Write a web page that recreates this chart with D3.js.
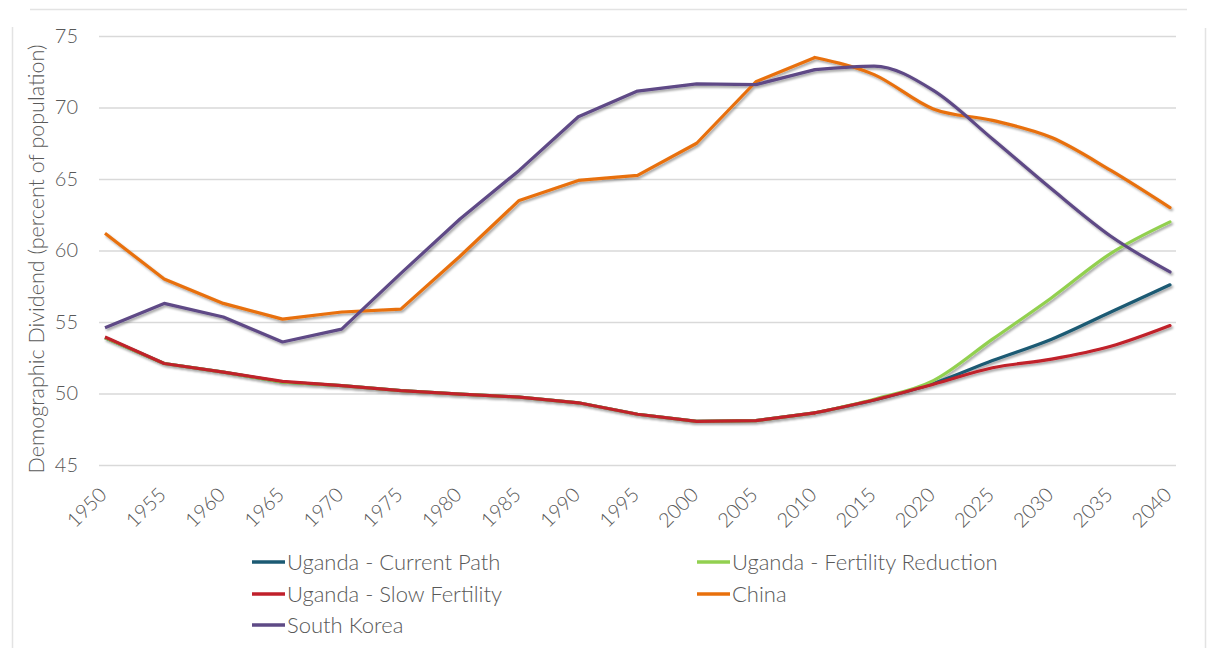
<!DOCTYPE html>
<html>
<head>
<meta charset="utf-8">
<script src="https://cdn.jsdelivr.net/npm/d3@7"></script>
<style>
  html, body { margin: 0; padding: 0; background: #fff; }
  svg text { font-family: Lato, "Open Sans", sans-serif; font-weight: 300; fill: #595959; }
</style>
</head>
<body>
<div id="chart"></div>
<script>
// Years on the category axis
const years = [1950, 1955, 1960, 1965, 1970, 1975, 1980, 1985, 1990, 1995,
               2000, 2005, 2010, 2015, 2020, 2025, 2030, 2035, 2040];

// Demographic dividend values
const ugandaCurrent = [53.9, 52.1, 51.5, 50.8, 50.55, 50.2, 49.95, 49.75, 49.35, 48.55,
                       48.05, 48.1, 48.65, 49.55, 50.7, 52.3, 53.8, 55.7, 57.6];
const ugandaReduction = [53.9, 52.1, 51.5, 50.8, 50.55, 50.2, 49.95, 49.75, 49.35, 48.55,
                         48.05, 48.1, 48.65, 49.6, 50.9, 53.8, 56.7, 59.8, 62.0];
const ugandaSlow = [53.95, 52.1, 51.5, 50.85, 50.55, 50.2, 49.95, 49.75, 49.35, 48.55,
                    48.05, 48.1, 48.65, 49.55, 50.65, 51.8, 52.4, 53.3, 54.75];
const china = [61.2, 58.0, 56.3, 55.2, 55.7, 55.9, 59.6, 63.5, 64.9, 65.25,
               67.5, 71.8, 73.5, 72.3, 69.9, 69.1, 67.9, 65.6, 63.0];
const southKorea = [54.6, 56.3, 55.35, 53.6, 54.5, 58.4, 62.2, 65.6, 69.35, 71.15,
                    71.65, 71.6, 72.65, 72.9, 71.2, 67.8, 64.3, 61.0, 58.5];

const yTicks = [45, 50, 55, 60, 65, 70, 75];

// projections (from 2010 on) are drawn smoothed, like the source
const smoothFrom = 2010;

const series = [
    { name: "Uganda - Current Path", values: ugandaCurrent, color: "#1b5a73" },
    { name: "Uganda - Fertility Reduction", values: ugandaReduction, color: "#92d050" },
    { name: "Uganda - Slow Fertility", values: ugandaSlow, color: "#c0202b" },
    { name: "China", values: china, color: "#e8700c" },
    { name: "South Korea", values: southKorea, color: "#5e4a86" }
];

const width = 1207, height = 648;

const svg = d3.select("#chart").append("svg")
    .attr("width", width)
    .attr("height", height);

// soft drop shadow under the lines
const defs = svg.append("defs");
defs.append("filter")
    .attr("id", "shadow")
    .attr("x", "-5%").attr("y", "-5%")
    .attr("width", "110%").attr("height", "120%")
    .append("feDropShadow")
    .attr("dx", 1.5).attr("dy", 2)
    .attr("stdDeviation", 1.3)
    .attr("flood-color", "#000")
    .attr("flood-opacity", 0.35);

// frame pieces
svg.append("line").attr("x1", 30).attr("x2", 1187).attr("y1", 9.5).attr("y2", 9.5)
    .attr("stroke", "#e3e3e3").attr("stroke-width", 1.5);
svg.append("line").attr("x1", 12.5).attr("x2", 12.5).attr("y1", 27).attr("y2", height)
    .attr("stroke", "#e3e3e3").attr("stroke-width", 1.5);
svg.append("line").attr("x1", 1205.5).attr("x2", 1205.5).attr("y1", 28).attr("y2", height)
    .attr("stroke", "#e3e3e3").attr("stroke-width", 1.5);

const x = d3.scaleLinear()
    .domain([1950, 2040])
    .range([105, 1170]);

const y = d3.scaleLinear()
    .domain([45, 75])
    .range([465, 36]);

// gridlines + y labels
const yAxis = svg.append("g")
    .attr("transform", "translate(99,0)")
    .call(d3.axisLeft(y).tickValues(yTicks).tickSize(-1077).tickPadding(21));
yAxis.select(".domain").remove();
yAxis.selectAll(".tick line").attr("stroke", "#d9d9d9").attr("stroke-width", 1.5);
yAxis.selectAll(".tick text")
    .style("font-size", "20px")
    .attr("fill", "#595959");

// rotated year labels
svg.append("g").selectAll("text")
    .data(years)
    .enter()
    .append("text")
    .attr("text-anchor", "end")
    .attr("transform", d => `translate(${x(d) + 3},496) rotate(-45)`)
    .style("font-size", "20px")
    .text(d => d);

// axis title
svg.append("text")
    .attr("transform", "translate(44,259) rotate(-90)")
    .attr("text-anchor", "middle")
    .style("font-size", "21.5px")
    .text("Demographic Dividend (percent of population)");

const lineHist = d3.line()
    .x(d => x(d.year))
    .y(d => y(d.value));

const lineProj = d3.line()
    .curve(d3.curveMonotoneX)
    .x(d => x(d.year))
    .y(d => y(d.value));

const lines = svg.append("g").attr("filter", "url(#shadow)");

series.forEach(s => {
    const pts = years.map((yr, i) => ({ year: yr, value: s.values[i] }));
    const hist = pts.filter(p => p.year <= smoothFrom);
    const proj = pts.filter(p => p.year >= smoothFrom);
    const g = lines.append("g");
    g.append("path")
        .datum(hist)
        .attr("fill", "none")
        .attr("stroke", s.color)
        .attr("stroke-width", 3.2)
        .attr("stroke-linejoin", "round")
        .attr("d", lineHist);
    g.append("path")
        .datum(proj)
        .attr("fill", "none")
        .attr("stroke", s.color)
        .attr("stroke-width", 3.2)
        .attr("stroke-linejoin", "round")
        .attr("stroke-linecap", "round")
        .attr("d", lineProj);
});

// legend, two columns
const legendCols = [252, 697];
const legendRows = [562, 594, 625];

const legend = svg.append("g").selectAll("g")
    .data(series)
    .enter()
    .append("g")
    .attr("transform", (d, i) => `translate(${legendCols[i % 2]},${legendRows[Math.floor(i / 2)]})`);

legend.append("line")
    .attr("x1", 0).attr("x2", 33)
    .attr("stroke", d => d.color)
    .attr("stroke-width", 3.5);

legend.append("text")
    .attr("x", 35)
    .attr("dy", "0.35em")
    .style("font-size", "22px")
    .text(d => d.name);
</script>
</body>
</html>
